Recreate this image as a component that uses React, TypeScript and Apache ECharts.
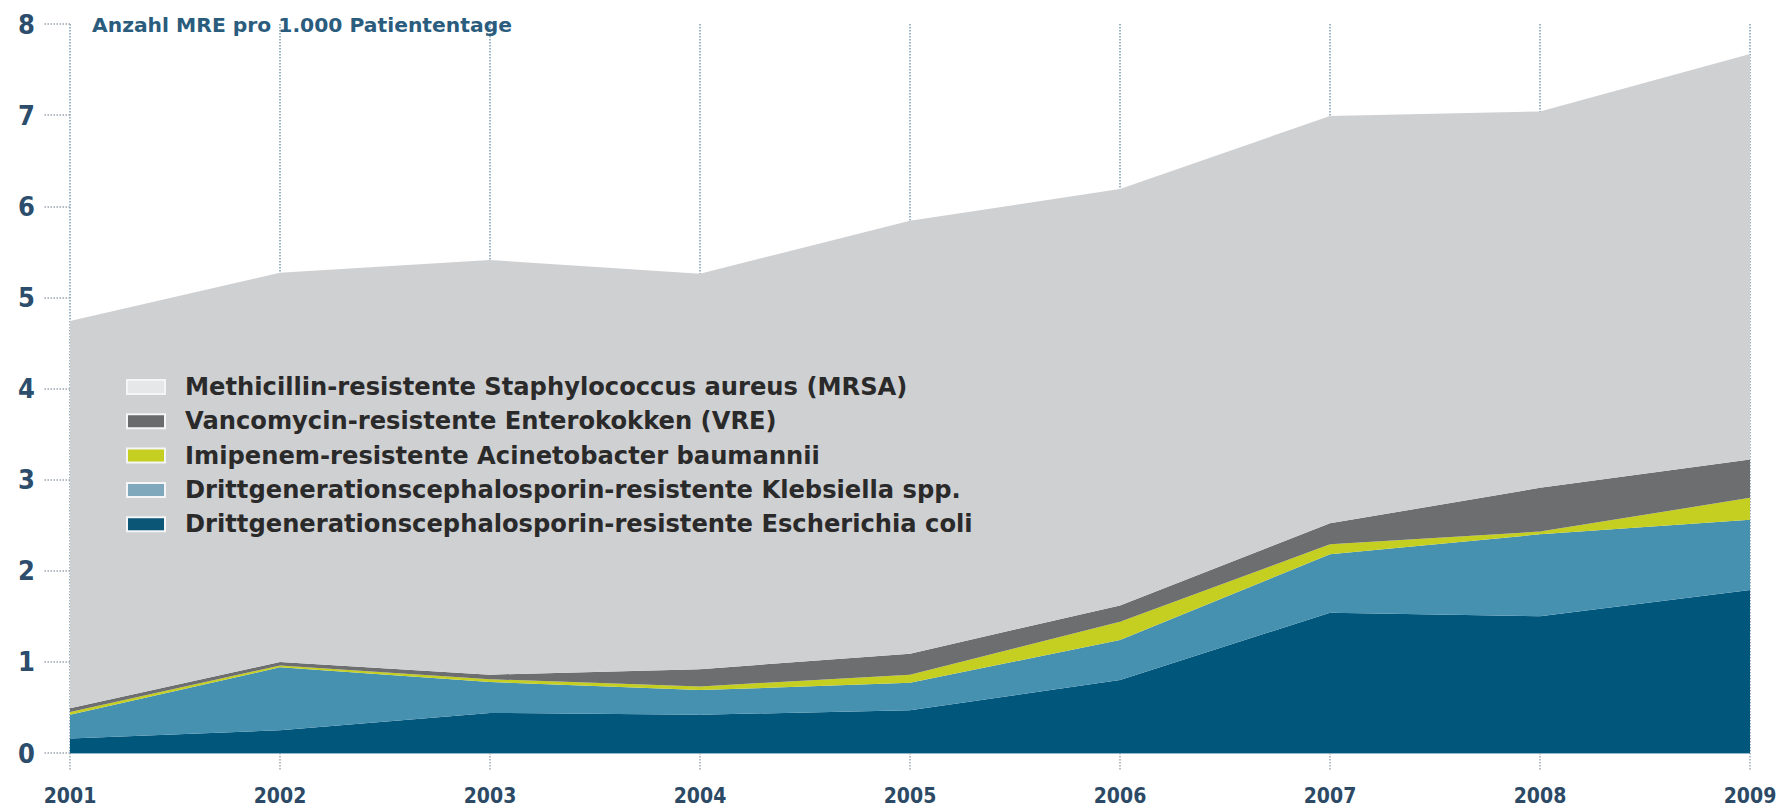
import React, { useEffect, useRef } from "react";
import * as echarts from "echarts";

const years = ["2001", "2002", "2003", "2004", "2005", "2006", "2007", "2008", "2009"];
const ecoli = [0.16, 0.25, 0.44, 0.42, 0.47, 0.8, 1.54, 1.5, 1.79];
const klebsiella = [0.26, 0.69, 0.34, 0.27, 0.3, 0.44, 0.64, 0.9, 0.77];
const acinetobacter = [0.03, 0.02, 0.03, 0.04, 0.09, 0.2, 0.11, 0.03, 0.24];
const vre = [0.04, 0.04, 0.05, 0.19, 0.23, 0.18, 0.23, 0.48, 0.42];
const mrsa = [4.25, 4.27, 4.55, 4.34, 4.75, 4.57, 4.47, 4.13, 4.45];
const yTicks = [0, 1, 2, 3, 4, 5, 6, 7, 8];

const names = {
  mrsa: "Methicillin-resistente Staphylococcus aureus (MRSA)",
  vre: "Vancomycin-resistente Enterokokken (VRE)",
  acin: "Imipenem-resistente Acinetobacter baumannii",
  kleb: "Drittgenerationscephalosporin-resistente Klebsiella spp.",
  ecoli: "Drittgenerationscephalosporin-resistente Escherichia coli",
};

const colors = {
  mrsa: "#cfd0d2",
  vre: "#6d6e70",
  acin: "#c5cf22",
  kleb: "#4690b0",
  ecoli: "#00567b",
};

const legendIconColors = {
  mrsa: "#e6e7e9",
  vre: "#6a6b6d",
  acin: "#c5cf22",
  kleb: "#7fa8bd",
  ecoli: "#0b5577",
};

export default function App() {
  const ref = useRef<HTMLDivElement>(null);
  useEffect(() => {
    if (!ref.current) return;
    const chart = echarts.init(ref.current, undefined, { renderer: "svg" });
    const mk = (key: string, data: number[]) => ({
      name: (names as any)[key],
      type: "line",
      stack: "total",
      data,
      showSymbol: false,
      symbol: "none",
      lineStyle: { width: 0 },
      itemStyle: { color: (colors as any)[key] },
      areaStyle: { color: (colors as any)[key], opacity: 1 },
      z: 2,
    });
    chart.setOption({
      animation: false,
      backgroundColor: "#ffffff",
      textStyle: { fontFamily: "DejaVu Sans" },
      title: {
        text: "Anzahl MRE pro 1.000 Patiententage",
        left: 87,
        top: 9,
        textStyle: { fontSize: 20.3, fontWeight: "bold", color: "#2a5c7d", fontFamily: "DejaVu Sans", lineHeight: 22 },
      },
      grid: { left: 70, right: 36, top: 24, bottom: 56, containLabel: false },
      legend: {
        orient: "vertical",
        left: 121,
        top: 369,
        itemWidth: 38,
        itemHeight: 14,
        itemGap: 8.3,
        icon: "rect",
        textStyle: { fontSize: 24.2, lineHeight: 26, fontWeight: "bold", color: "#2a2a2a", fontFamily: "DejaVu Sans", padding: [0, 0, 0, 15] },
        data: (["mrsa", "vre", "acin", "kleb", "ecoli"] as const).map((k) => ({
          name: names[k],
          itemStyle: { color: legendIconColors[k], borderColor: "#f4f5f6", borderWidth: 2 },
        })),
      },
      xAxis: {
        type: "category",
        data: years,
        boundaryGap: false,
        axisLine: { show: true, lineStyle: { color: "#8fb9cc", width: 1 } },
        axisTick: { show: true, length: 18, lineStyle: { color: "#a0a8b0", type: "dotted", width: 1.5 } },
        axisLabel: { margin: 32, fontSize: 21, fontWeight: "bold", color: "#2c4a66", fontFamily: "DejaVu Sans Condensed" },
        splitLine: { show: true, lineStyle: { color: "#7e9cb2", type: "dotted", width: 1.5 } },
      },
      yAxis: {
        type: "value",
        min: 0,
        max: 8,
        interval: 1,
        axisLine: { show: false },
        axisTick: { show: true, length: 27, lineStyle: { color: "#9aa6b2", type: "dotted", width: 1.5 } },
        axisLabel: {
          margin: 35,
          fontSize: 27,
          fontWeight: "bold",
          color: "#2c4d6b",
          fontFamily: "DejaVu Sans Condensed",
          formatter: (v: number) => (yTicks.includes(v) ? String(v) : ""),
        },
        splitLine: { show: false },
      },
      series: [mk("ecoli", ecoli), mk("kleb", klebsiella), mk("acin", acinetobacter), mk("vre", vre), mk("mrsa", mrsa)],
    });
    return () => chart.dispose();
  }, []);
  return <div ref={ref} style={{ position: "fixed", left: 0, top: 0, width: 1786, height: 809 }} />;
}
